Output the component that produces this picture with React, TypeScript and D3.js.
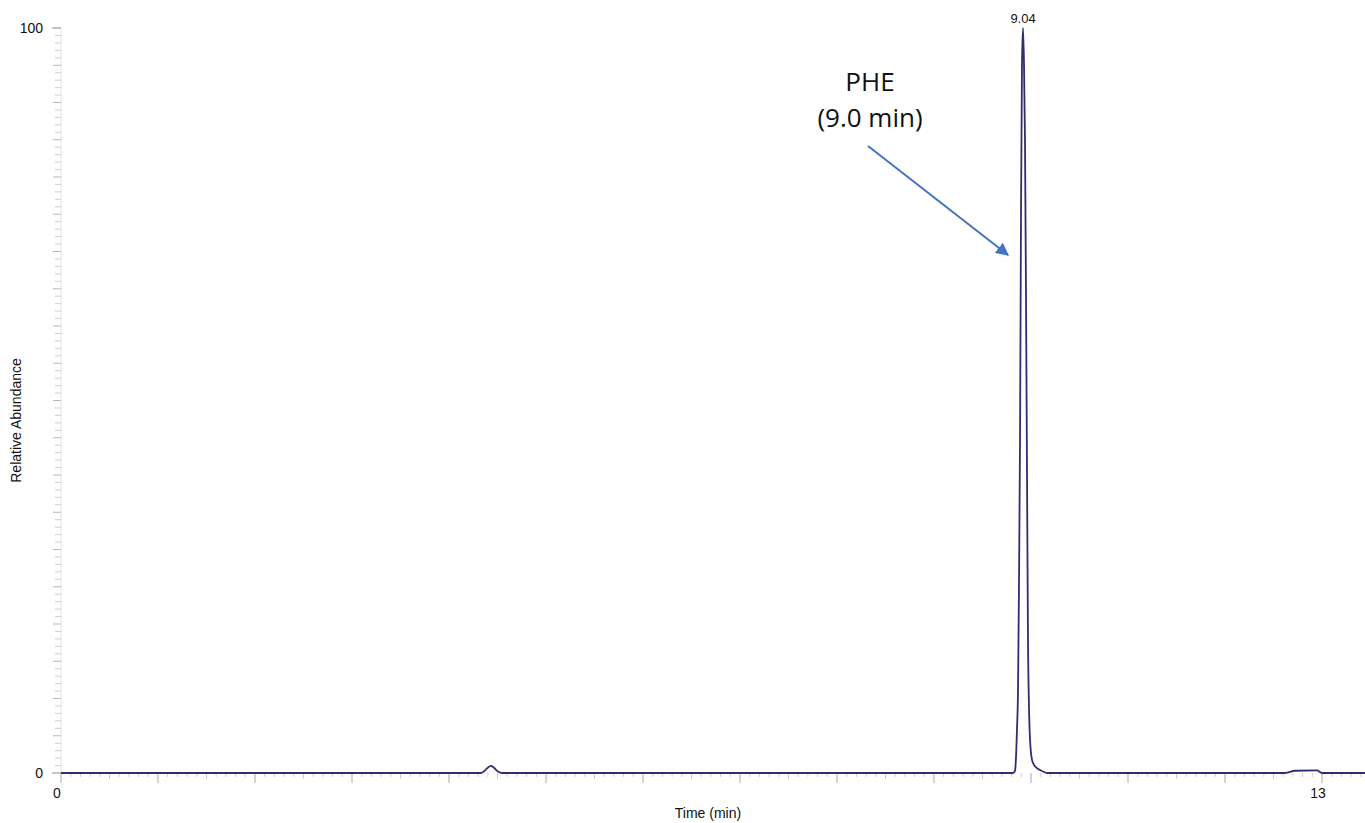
import React, { useEffect } from "react";
import * as d3 from "d3";

// Chromatogram trace (time on the axis scale, relative abundance %)
const times = [
  0, 4.33, 4.371, 4.402, 4.433, 4.464, 4.505, 4.546,
  9.814, 9.835, 9.845, 9.856, 9.866, 9.876, 9.887, 9.897, 9.907, 9.918,
  9.928, 9.938, 9.948, 9.959, 9.969, 9.979, 9.99, 10.01, 10.041, 10.093, 10.175,
  12.619, 12.722, 12.948, 13.0, 13.45,
];
const abundance = [
  0, 0, 0.35, 0.75, 0.95, 0.7, 0.2, 0,
  0, 0.3, 2, 6, 11, 25, 45, 75, 95, 100,
  95, 85, 65, 40, 18, 9, 4.5, 1.8, 0.9, 0.4, 0,
  0, 0.3, 0.35, 0, 0,
];

const peakLabels = [{ text: "9.04", time: 9.918, value: 100 }];
const yTickLabels = [0, 100];
const xTickLabels = [0, 13];
const annotationLines = ["PHE", "(9.0 min)"];

const W = 1365;
const H = 823;

export default function App() {
  useEffect(() => {
    document.body.style.margin = "0";
    document.body.style.overflow = "hidden";
  }, []);

  const x = d3.scaleLinear().domain([0, 13]).range([61, 1322]);
  const y = d3.scaleLinear().domain([0, 100]).range([773, 28]);

  const line = d3
    .line<number>()
    .x((_, i) => x(times[i]))
    .y((d) => y(d))
    .curve(d3.curveMonotoneX);

  const yMinor = d3.range(0, 101, 1);
  const xMinor = d3.range(0, 134.5, 1).map((v) => v / 10);

  const font = "Liberation Sans, Arial, sans-serif";

  return (
    <svg
      width={W}
      height={H}
      style={{ position: "absolute", left: 0, top: 0, display: "block", background: "#fff" }}
    >
      <defs>
        <marker
          id="arrowHead"
          viewBox="0 0 10 10"
          refX="9"
          refY="5"
          markerWidth="6.5"
          markerHeight="6.5"
          orient="auto"
          markerUnits="strokeWidth"
        >
          <path d="M0,0 L10,5 L0,10 z" fill="#4472C4" />
        </marker>
      </defs>

      {/* Y axis */}
      <line x1={61} x2={61} y1={y(100)} y2={y(0)} stroke="#e4e4e4" strokeWidth={1} />
      {yMinor.map((v) => {
        const major = v === 0 || v === 100;
        const mid = v % 5 === 0;
        const len = major ? 9 : mid ? 8 : 6;
        return (
          <line
            key={"yt" + v}
            x1={61 - len}
            x2={61}
            y1={y(v)}
            y2={y(v)}
            stroke={major ? "#8a8a8a" : mid ? "#b8b8b8" : "#cfcfcf"}
            strokeWidth={1}
          />
        );
      })}
      {yTickLabels.map((v) => (
        <text
          key={"yl" + v}
          x={43}
          y={y(v)}
          dy="0.35em"
          textAnchor="end"
          fontFamily={font}
          fontSize={14}
          fill="#111"
        >
          {v}
        </text>
      ))}
      <text
        transform={`translate(21,${(y(0) + y(100)) / 2 + 20}) rotate(-90)`}
        textAnchor="middle"
        fontFamily={font}
        fontSize={14}
        fill="#111"
      >
        Relative Abundance
      </text>

      {/* X axis */}
      {xMinor.map((v, i) => {
        const major = i % 10 === 0;
        const len = major ? 10 : i % 5 === 0 ? 6 : 4;
        return (
          <line
            key={"xt" + i}
            x1={x(v)}
            x2={x(v)}
            y1={773}
            y2={773 + len}
            stroke={major ? "#a8a8a8" : "#d0d0d0"}
            strokeWidth={1}
          />
        );
      })}
      {xTickLabels.map((v) => (
        <text
          key={"xl" + v}
          x={x(v) - 4}
          y={793}
          dy="0.35em"
          textAnchor="middle"
          fontFamily={font}
          fontSize={14}
          fill="#111"
        >
          {v}
        </text>
      ))}
      <text
        x={708}
        y={813}
        dy="0.35em"
        textAnchor="middle"
        fontFamily={font}
        fontSize={14}
        fill="#111"
      >
        Time (min)
      </text>

      {/* Trace */}
      <path d={line(abundance) || ""} fill="none" stroke="#2e2e72" strokeWidth={1.8} strokeLinejoin="round" />

      {peakLabels.map((p) => (
        <text
          key={p.text}
          x={x(p.time)}
          y={y(p.value) - 10}
          dy="0.35em"
          textAnchor="middle"
          fontFamily={font}
          fontSize={13}
          fill="#111"
        >
          {p.text}
        </text>
      ))}

      {/* Annotation */}
      {annotationLines.map((t, i) => (
        <text
          key={t}
          x={870}
          y={82 + i * 36}
          dy="0.35em"
          textAnchor="middle"
          fontFamily="Open Sans, Noto Sans, sans-serif"
          fontSize={26}
          fill="#111"
        >
          {t}
        </text>
      ))}
      <line
        x1={868}
        y1={146}
        x2={1008}
        y2={255}
        stroke="#4472C4"
        strokeWidth={2}
        markerEnd="url(#arrowHead)"
      />
    </svg>
  );
}
